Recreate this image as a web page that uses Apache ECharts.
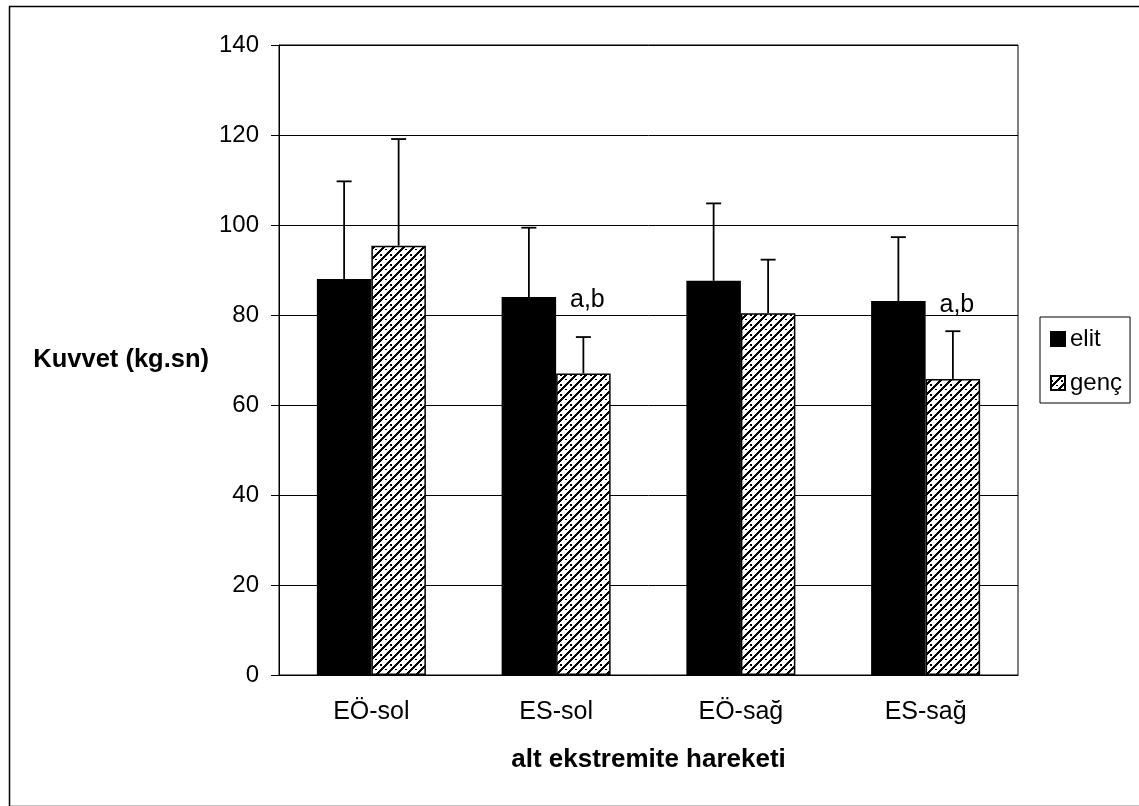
<!DOCTYPE html>
<html>
<head>
<meta charset="utf-8">
<script src="https://cdn.jsdelivr.net/npm/echarts@6/dist/echarts.min.js"></script>
<style>
html,body{margin:0;padding:0;background:#fff;}
#chart{width:1139px;height:806px;}
</style>
</head>
<body>
<div id="chart"></div>
<script>
// ---- data ----
const categories = ['EÖ-sol', 'ES-sol', 'EÖ-sağ', 'ES-sağ'];
const seriesNames = ['elit', 'genç'];
const elit = [88.0, 84.0, 87.6, 83.1];
const elitSD = [21.7, 15.4, 17.2, 14.2];
const genc = [95.4, 67.0, 80.4, 65.8];
const gencSD = [23.7, 8.1, 11.9, 10.6];
const annotationText = ['', 'a,b', '', 'a,b'];
const annotationY = [null, 83.3, null, 82.2];
const yTicks = [0, 20, 40, 60, 80, 100, 120, 140];
const yAxisTitle = 'Kuvvet (kg.sn)';
const xAxisTitle = 'alt ekstremite hareketi';

// ---- hatch pattern (diagonal lines with dots) ----
function makePattern() {
  const s = 10;
  const c = document.createElement('canvas');
  c.width = s; c.height = s;
  const ctx = c.getContext('2d');
  ctx.fillStyle = '#fff';
  ctx.fillRect(0, 0, s, s);
  ctx.fillStyle = '#000';
  for (let y = 0; y < s; y++) {
    for (let x = 0; x < s; x++) {
      const d = (x + y) % s;
      if (d === 0 || d === 1 || d === 9) ctx.fillRect(x, y, 1, 1);
    }
  }
  for (let x = 0; x < s; x += 5) {
    const y = ((4 - x) % s + s) % s;
    ctx.fillRect(x, y, 2, 2);
  }
  return c;
}
const pattern = { image: makePattern(), repeat: 'repeat' };

const FONT = 'Liberation Sans, Arial, sans-serif';
const GAP = 0.41;

function errRender(side) {
  return function (params, api) {
    const i = api.value(0), v = api.value(1), e = api.value(2);
    const band = api.size([1, 0])[0];
    const bw = band * (1 - GAP) / 2;
    const base = api.coord([i, v]);
    const top = api.coord([i, v + e]);
    const x = base[0] + side * bw / 2;
    const cap = 7.5;
    const st = { stroke: '#000', lineWidth: 1.8 };
    return {
      type: 'group',
      children: [
        { type: 'line', shape: { x1: x, y1: base[1], x2: x, y2: top[1] }, style: st },
        { type: 'line', shape: { x1: x - cap, y1: top[1], x2: x + cap, y2: top[1] }, style: st }
      ]
    };
  };
}

function annRender(params, api) {
  const i = api.value(0), v = api.value(1);
  const band = api.size([1, 0])[0];
  const bw = band * (1 - GAP) / 2;
  const p = api.coord([i, v]);
  return {
    type: 'text',
    style: {
      x: p[0] + bw / 2 + 4, y: p[1],
      text: annotationText[i],
      fill: '#000', font: '25px ' + FONT,
      align: 'center', verticalAlign: 'middle'
    }
  };
}

const chart = echarts.init(document.getElementById('chart'), null, { renderer: 'canvas' });
chart.setOption({
  animation: false,
  backgroundColor: '#fff',
  textStyle: { fontFamily: FONT, color: '#000' },
  graphic: [{
    type: 'rect', left: 7, top: 4, z: -1,
    shape: { width: 1150, height: 800 },
    style: { fill: 'none', stroke: '#000', lineWidth: 1.5 }
  }],
  grid: {
    left: 279, right: 121, top: 45, bottom: 131,
    show: true, borderColor: '#000', borderWidth: 1, backgroundColor: 'transparent'
  },
  legend: {
    orient: 'vertical', left: 1040, top: 317,
    padding: [10, 8, 8, 10],
    itemGap: 20, itemWidth: 14, itemHeight: 14,
    borderColor: '#000', borderWidth: 1,
    icon: 'rect',
    textStyle: { fontFamily: FONT, fontSize: 24, color: '#000' },
    data: seriesNames
  },
  xAxis: {
    type: 'category', data: categories,
    name: xAxisTitle, nameLocation: 'middle', nameGap: 72,
    nameTextStyle: { fontFamily: FONT, fontSize: 26, fontWeight: 'bold', color: '#000' },
    axisLine: { lineStyle: { color: '#000', width: 1 } },
    axisTick: { length: 8, lineStyle: { color: '#000' } },
    axisLabel: { fontFamily: FONT, fontSize: 25, color: '#000', margin: 25 }
  },
  yAxis: {
    type: 'value', min: yTicks[0], max: yTicks[yTicks.length - 1], interval: 20,
    name: yAxisTitle, nameLocation: 'middle', nameRotate: 0, nameGap: 70,
    nameTextStyle: { fontFamily: FONT, fontSize: 25.5, fontWeight: 'bold', color: '#000' },
    axisLine: { show: true, lineStyle: { color: '#000', width: 1 } },
    axisTick: { show: true, length: 8, lineStyle: { color: '#000' } },
    axisLabel: { fontFamily: FONT, fontSize: 24, color: '#000', margin: 20 },
    splitLine: { show: true, lineStyle: { color: '#000', width: 1 } }
  },
  series: [
    {
      name: seriesNames[0], type: 'bar', data: elit,
      barGap: '0%', barCategoryGap: (GAP * 100) + '%',
      itemStyle: { color: '#000', borderColor: '#000', borderWidth: 1.5 }
    },
    {
      name: seriesNames[1], type: 'bar', data: genc,
      barGap: '0%', barCategoryGap: (GAP * 100) + '%',
      itemStyle: { color: pattern, borderColor: '#000', borderWidth: 1.5 }
    },
    {
      type: 'custom', renderItem: errRender(-1), z: 5,
      data: elit.map((v, i) => [i, v, elitSD[i]])
    },
    {
      type: 'custom', renderItem: errRender(1), z: 5,
      data: genc.map((v, i) => [i, v, gencSD[i]])
    },
    {
      type: 'custom', renderItem: annRender, z: 6,
      data: annotationY.map((v, i) => v == null ? null : [i, v]).filter(d => d)
    }
  ]
});
</script>
</body>
</html>
